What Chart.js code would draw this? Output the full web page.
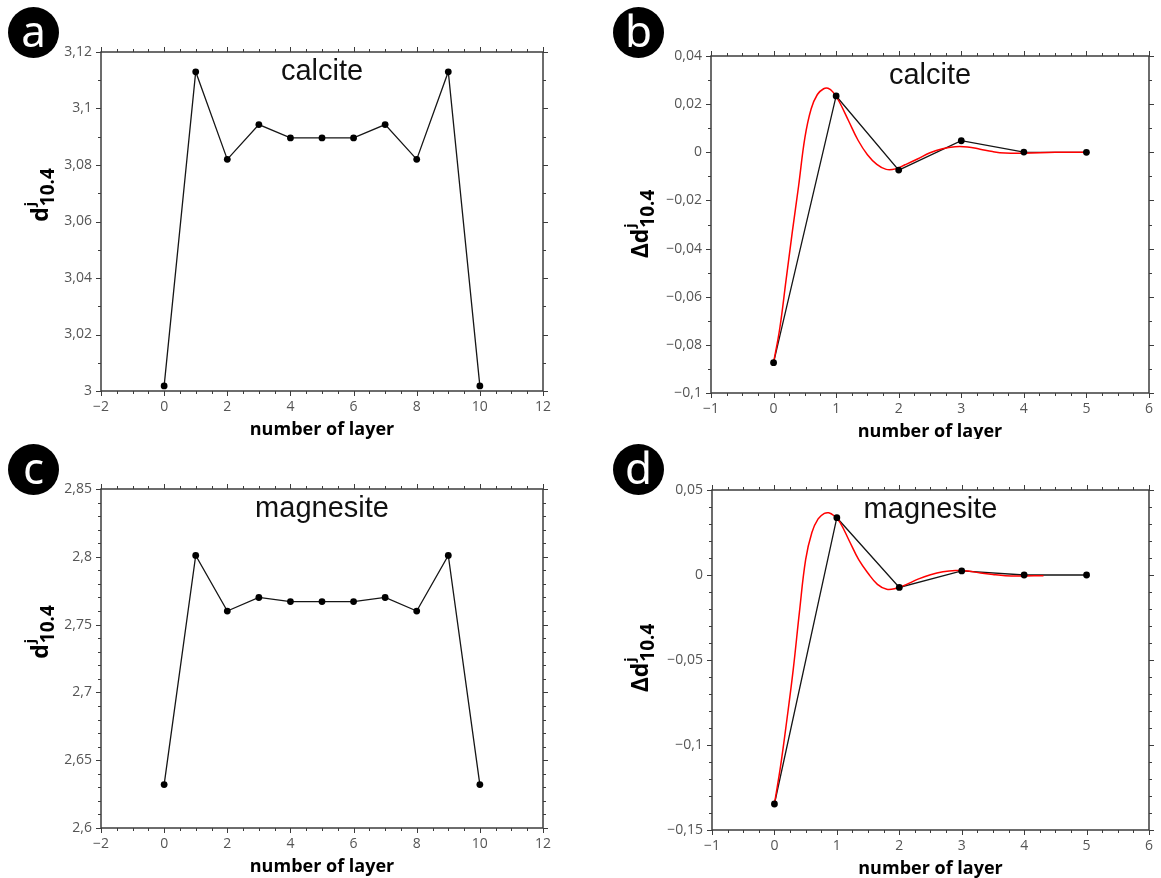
<!DOCTYPE html>
<html>
<head>
<meta charset="utf-8">
<script src="https://cdn.jsdelivr.net/npm/chart.js@4.4.1/dist/chart.umd.min.js"></script>
<style>
  body { margin: 0; background: #fff; }
  #wrap { position: relative; width: 1161px; height: 878px; overflow: hidden; background: #fff; }
  .panel { position: absolute; }
  .badge {
    position: absolute; width: 51px; height: 51px; border-radius: 50%;
    background: #000; color: #fff; text-align: center;
    font: 44px 'Noto Sans', sans-serif; line-height: 47px;
  }
</style>
</head>
<body>
<div id="wrap">
  <div class="panel" style="left:0;top:0"><canvas id="chartA" width="580" height="439"></canvas></div>
  <div class="panel" style="left:580px;top:0"><canvas id="chartB" width="581" height="439"></canvas></div>
  <div class="panel" style="left:0;top:439px"><canvas id="chartC" width="580" height="439"></canvas></div>
  <div class="panel" style="left:580px;top:439px"><canvas id="chartD" width="581" height="439"></canvas></div>
  <div class="badge" style="left:8px;top:7px">a</div>
  <div class="badge" style="left:613px;top:7px">b</div>
  <div class="badge" style="left:8px;top:444px">c</div>
  <div class="badge" style="left:613px;top:444px">d</div>
</div>
<script>
// layer index, full slab and half slab
const layers = [0, 1, 2, 3, 4, 5, 6, 7, 8, 9, 10];
const layersHalf = [0, 1, 2, 3, 4, 5];

// d(10.4) per layer
const calciteD = [3.0018, 3.113, 3.082, 3.0943, 3.0896, 3.0896, 3.0896, 3.0943, 3.082, 3.113, 3.0018];
const magnesiteD = [2.632, 2.801, 2.760, 2.770, 2.767, 2.767, 2.767, 2.770, 2.760, 2.801, 2.632];

// delta d(10.4) per layer
const calciteDelta = [-0.0874, 0.0234, -0.0074, 0.0048, 0.0001, 0.0];
const magnesiteDelta = [-0.1347, 0.0337, -0.0073, 0.0024, 0.0, 0.0];

// red fitted curves
const calciteFitX = [0, 0.1, 0.2, 0.3, 0.4, 0.5, 0.6, 0.7, 0.8, 0.87, 0.95, 1.05, 1.2, 1.35, 1.5, 1.65, 1.8, 1.95, 2.1, 2.3, 2.5, 2.7, 2.9, 3.1, 3.3, 3.5, 3.7, 4.0, 4.5, 5.0];
const calciteFitY = [-0.0874, -0.073, -0.053, -0.033, -0.014, 0.006, 0.018, 0.024, 0.0264, 0.0266, 0.025, 0.021, 0.013, 0.005, -0.001, -0.005, -0.0071, -0.0069, -0.0052, -0.0028, -0.0002, 0.0015, 0.0023, 0.0022, 0.0013, 0.0003, -0.0003, -0.0004, 0.0, 0.0];
const magnesiteFitX = [0, 0.1, 0.2, 0.3, 0.4, 0.5, 0.6, 0.7, 0.8, 0.87, 0.95, 1.05, 1.2, 1.35, 1.5, 1.65, 1.8, 1.95, 2.1, 2.3, 2.5, 2.7, 2.9, 3.1, 3.3, 3.5, 3.7, 3.9, 4.31];
const magnesiteFitY = [-0.1347, -0.112, -0.085, -0.056, -0.022, 0.009, 0.025, 0.033, 0.0362, 0.0366, 0.035, 0.031, 0.020, 0.009, 0.001, -0.0055, -0.0084, -0.0078, -0.0058, -0.0024, 0.0002, 0.0019, 0.0026, 0.0023, 0.0012, 0.0003, -0.0004, -0.0006, -0.0004];

const xTitle = 'number of layer';

function fmt(v) {
  const s = Number(v.toFixed(4)).toString();
  return s.replace('.', ',').replace('-', '\u2212');
}

function pts(xs, ys) { return xs.map((x, i) => ({ x, y: ys[i] })); }

const framePlugin = {
  id: 'frame',
  beforeDatasetsDraw(chart, args, o) {
    const ctx = chart.ctx;
    const { left, right, top, bottom } = chart.chartArea;
    const xs = chart.scales.x, ys = chart.scales.y;
    ctx.save();
    ctx.strokeStyle = '#3c3c3c';
    ctx.lineWidth = 1.5;
    ctx.strokeRect(left, top, right - left, bottom - top);
    ctx.lineWidth = 1;
    ctx.beginPath();
    const nx = Math.round((xs.max - xs.min) / o.xMinor);
    for (let i = 0; i <= nx; i++) {
      const v = xs.min + i * o.xMinor;
      const r = (v - xs.min) / o.xMajor;
      const len = Math.abs(r - Math.round(r)) < 1e-6 ? 5 : 3;
      const p = Math.round(xs.getPixelForValue(v)) + 0.5;
      ctx.moveTo(p, bottom); ctx.lineTo(p, bottom + len);
      ctx.moveTo(p, top); ctx.lineTo(p, top - len);
    }
    const ny = Math.round((ys.max - ys.min) / o.yMinor);
    for (let i = 0; i <= ny; i++) {
      const v = ys.min + i * o.yMinor;
      const r = (v - ys.min) / o.yMajor;
      const len = Math.abs(r - Math.round(r)) < 1e-6 ? 5 : 3;
      const p = Math.round(ys.getPixelForValue(v)) + 0.5;
      ctx.moveTo(left, p); ctx.lineTo(left - len, p);
      ctx.moveTo(right, p); ctx.lineTo(right + len, p);
    }
    ctx.stroke();
    ctx.restore();
  },
  afterDraw(chart, args, o) {
    const ctx = chart.ctx;
    const { left, right, top, bottom } = chart.chartArea;
    const cx = (left + right) / 2;
    ctx.save();
    ctx.fillStyle = '#111';
    ctx.textAlign = 'center';
    ctx.textBaseline = 'alphabetic';
    ctx.font = '29px "Liberation Sans", Arial, sans-serif';
    ctx.fillText(o.title, cx, top + 28);
    ctx.fillStyle = '#000';
    ctx.font = 'bold 18px "Open Sans", sans-serif';
    ctx.fillText(xTitle, cx, bottom + 44);

    // rotated y title: (prefix)d, superscript j, subscript 10.4
    ctx.translate(o.yt.x, o.yt.y);
    ctx.rotate(-Math.PI / 2);
    ctx.textAlign = 'left';
    const mainF = 'bold 23px "Open Sans", sans-serif';
    const supF = 'bold 14px "Open Sans", sans-serif';
    const subF = 'bold 19px "Open Sans", sans-serif';
    const main = o.yt.prefix + 'd';
    ctx.font = mainF; const wm = ctx.measureText(main).width;
    ctx.font = subF; const ws = ctx.measureText('10.4').width;
    const x0 = -(wm + 1 + ws) / 2;
    ctx.font = mainF; ctx.fillText(main, x0, 0);
    ctx.font = supF; ctx.fillText('j', x0 + wm + 1, -13);
    ctx.font = subF; ctx.fillText('10.4', x0 + wm + 1, 6);
    ctx.restore();
  }
};

function axis(min, max, step, size, isX) {
  return {
    type: 'linear', min, max,
    grid: { display: false, drawTicks: false },
    border: { display: false },
    ticks: {
      stepSize: step, autoSkip: false, maxRotation: 0,
      color: '#555', padding: isX ? 8 : 9,
      font: { family: '"Open Sans", sans-serif', size: 14 },
      callback: fmt
    },
    afterFit(s) { if (isX) s.height = size; else s.width = size; }
  };
}

function makeChart(id, p) {
  const datasets = [
    { data: p.black, borderColor: '#151515', borderWidth: 1.3, pointRadius: 0, showLine: true, order: 3 },
    { data: p.points, borderWidth: 0, pointRadius: 3.4, pointBackgroundColor: '#000', pointBorderWidth: 0, showLine: false, order: 1 }
  ];
  if (p.fit) {
    datasets.push({ data: p.fit, borderColor: '#ff0000', borderWidth: 1.5, pointRadius: 0, showLine: true, tension: 0.4, order: 2 });
  }
  return new Chart(document.getElementById(id), {
    type: 'scatter',
    data: { datasets },
    options: {
      responsive: false, animation: false,
      layout: { padding: { top: p.top, right: p.right, left: 0, bottom: 0 } },
      scales: {
        x: axis(p.x[0], p.x[1], p.x[2], p.bottomH, true),
        y: axis(p.y[0], p.y[1], p.y[2], p.leftW, false)
      },
      plugins: {
        legend: { display: false }, tooltip: { enabled: false },
        frame: { title: p.title, xMajor: p.x[2], xMinor: p.x[3], yMajor: p.y[2], yMinor: p.y[3], yt: p.yt }
      }
    },
    plugins: [framePlugin]
  });
}

const calcitePts = pts(layers, calciteD);
const magnesitePts = pts(layers, magnesiteD);
const calciteDPts = pts(layersHalf, calciteDelta);
const magnesiteDPts = pts(layersHalf, magnesiteDelta);

makeChart('chartA', {
  black: calcitePts, points: calcitePts, title: 'calcite',
  x: [-2, 12, 2, 0.5], y: [3, 3.12, 0.02, 0.01],
  top: 52, right: 37, leftW: 101, bottomH: 48,
  yt: { x: 48, y: 195, prefix: '' }
});
makeChart('chartB', {
  black: calciteDPts, points: calciteDPts, fit: pts(calciteFitX, calciteFitY), title: 'calcite',
  x: [-1, 6, 1, 0.25], y: [-0.1, 0.04, 0.02, 0.01],
  top: 56, right: 10, leftW: 131, bottomH: 46,
  yt: { x: 68, y: 224, prefix: '\u0394' }
});
makeChart('chartC', {
  black: magnesitePts, points: magnesitePts, title: 'magnesite',
  x: [-2, 12, 2, 0.5], y: [2.6, 2.85, 0.05, 0.01],
  top: 50, right: 37, leftW: 101, bottomH: 50,
  yt: { x: 48, y: 193, prefix: '' }
});
makeChart('chartD', {
  black: magnesiteDPts, points: magnesiteDPts, fit: pts(magnesiteFitX, magnesiteFitY), title: 'magnesite',
  x: [-1, 6, 1, 0.25], y: [-0.15, 0.05, 0.05, 0.01],
  top: 51, right: 10, leftW: 132, bottomH: 48,
  yt: { x: 68, y: 219, prefix: '\u0394' }
});
</script>
</body>
</html>
